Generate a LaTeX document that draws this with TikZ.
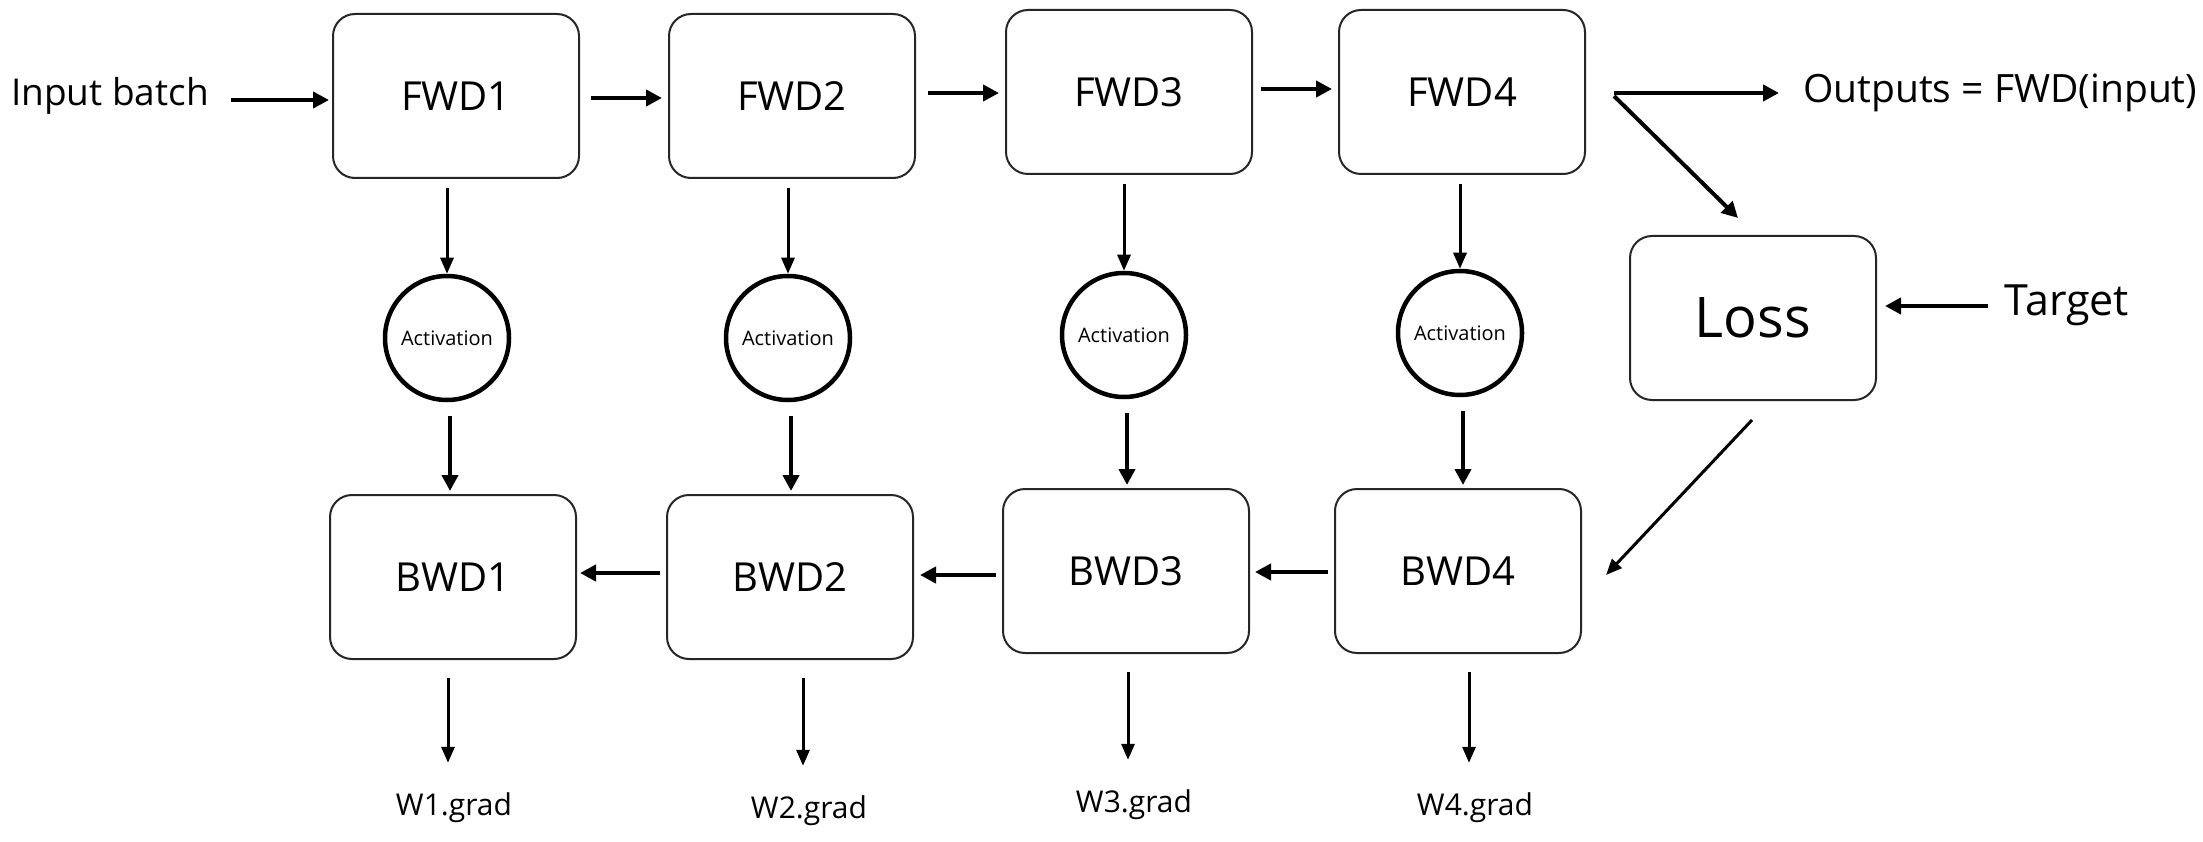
\documentclass[tikz,border=0pt]{standalone}
\usepackage{fontspec}
\setmainfont{Open Sans}
\usetikzlibrary{arrows.meta,calc}
\tikzset{
  blk/.style={draw=black!85, line width=2pt, rounded corners=22pt, minimum width=246pt, minimum height=164pt, inner sep=0pt, font=\fontsize{40}{48}\selectfont},
  actn/.style={draw=black, line width=4.5pt, circle, minimum size=124pt, inner sep=0pt, font=\fontsize{20}{24}\selectfont},
  lbl/.style={inner sep=0pt, font=\fontsize{37}{44}\selectfont},
  glbl/.style={inner sep=0pt, font=\fontsize{30}{36}\selectfont},
  arr/.style={draw=black, line width=4pt, -{Triangle[length=16pt,width=16pt]}},
  tarr/.style={draw=black, line width=3pt, -{Triangle[length=16pt,width=13pt]}}
}
\begin{document}
\begin{tikzpicture}[x=1pt,y=-1pt]
\useasboundingbox (0,0) rectangle (2203,842);
\fill[white] (0,0) rectangle (2203,842);
% boxes
\node[blk] (fwd1) at (456,96) {FWD1};
\node[blk] (fwd2) at (792,96) {FWD2};
\node[blk] (fwd3) at (1129,92) {FWD3};
\node[blk] (fwd4) at (1462,92) {FWD4};
\node[blk, font=\fontsize{56}{64}\selectfont] (loss) at (1753,318) {Loss};
\node[blk] (bwd1) at (453,577) {BWD1};
\node[blk] (bwd2) at (790,577) {BWD2};
\node[blk] (bwd3) at (1126,571) {BWD3};
\node[blk] (bwd4) at (1458,571) {BWD4};
% activations
\node[actn] (act1) at (447,338) {Activation};
\node[actn] (act2) at (788,338) {Activation};
\node[actn] (act3) at (1124,335) {Activation};
\node[actn] (act4) at (1460,333) {Activation};
% labels
\node[lbl] (inp) at (110,96) {Input batch};
\node[lbl, font=\fontsize{39}{46}\selectfont, anchor=west] (out) at (1803,93) {Outputs = FWD(input)};
\node[lbl, font=\fontsize{43}{50}\selectfont] (tgt) at (2067,305) {Target};
\node[glbl] (g1) at (454,808) {W1.grad};
\node[glbl] (g2) at (809,811) {W2.grad};
\node[glbl] (g3) at (1134,805) {W3.grad};
\node[glbl] (g4) at (1475,808) {W4.grad};
% forward arrows
\draw[arr] ($(inp.east)+(22,4)$) -- ($(fwd1.west)+(-3,4)$);
\draw[arr] ($(fwd1.east)+(11,2)$) -- ($(fwd2.west)+(-6,2)$);
\draw[arr] ($(fwd2.east)+(12,-3)$) -- ($(fwd3.west)+(-6,1)$);
\draw[arr] ($(fwd3.east)+(8,-3)$) -- ($(fwd4.west)+(-6,-3)$);
\draw[arr] ($(fwd4.east)+(28,1)$) -- ($(out.west)+(-24,0)$);
\draw[arr] ($(fwd4.east)+(28,4)$) -- ($(loss.north)+(-15,-17)$);
\draw[arr] ($(tgt.west)+(-17,1)$) -- ($(loss.east)+(8,-12)$);
\draw[tarr] ($(loss.south)+(-1,19)$) -- ($(bwd4.east)+(24,4)$);
% fwd -> activation -> bwd
\foreach \i in {1,2,3,4}{
  \draw[tarr] ($(act\i.north |- fwd\i.south)+(0,9)$) -- (act\i.north);
  \draw[arr] ($(act\i.south)+(3,14)$) -- ($(act\i.south |- bwd\i.north)+(3,-3)$);
}
% backward arrows
\draw[arr] ($(bwd2.west)+(-6,-4)$) -- ($(bwd1.east)+(3,-4)$);
\draw[arr] ($(bwd3.west)+(-6,4)$) -- ($(bwd2.east)+(6,-2)$);
\draw[arr] ($(bwd4.west)+(-6,1)$) -- ($(bwd3.east)+(5,1)$);
% grad arrows
\foreach \i in {1,2,3,4}{
  \draw[tarr] ($(g\i.north |- bwd\i.south)+(-6,18)$) -- ($(g\i.north)+(-6,-30)$);
}
\end{tikzpicture}
\end{document}
